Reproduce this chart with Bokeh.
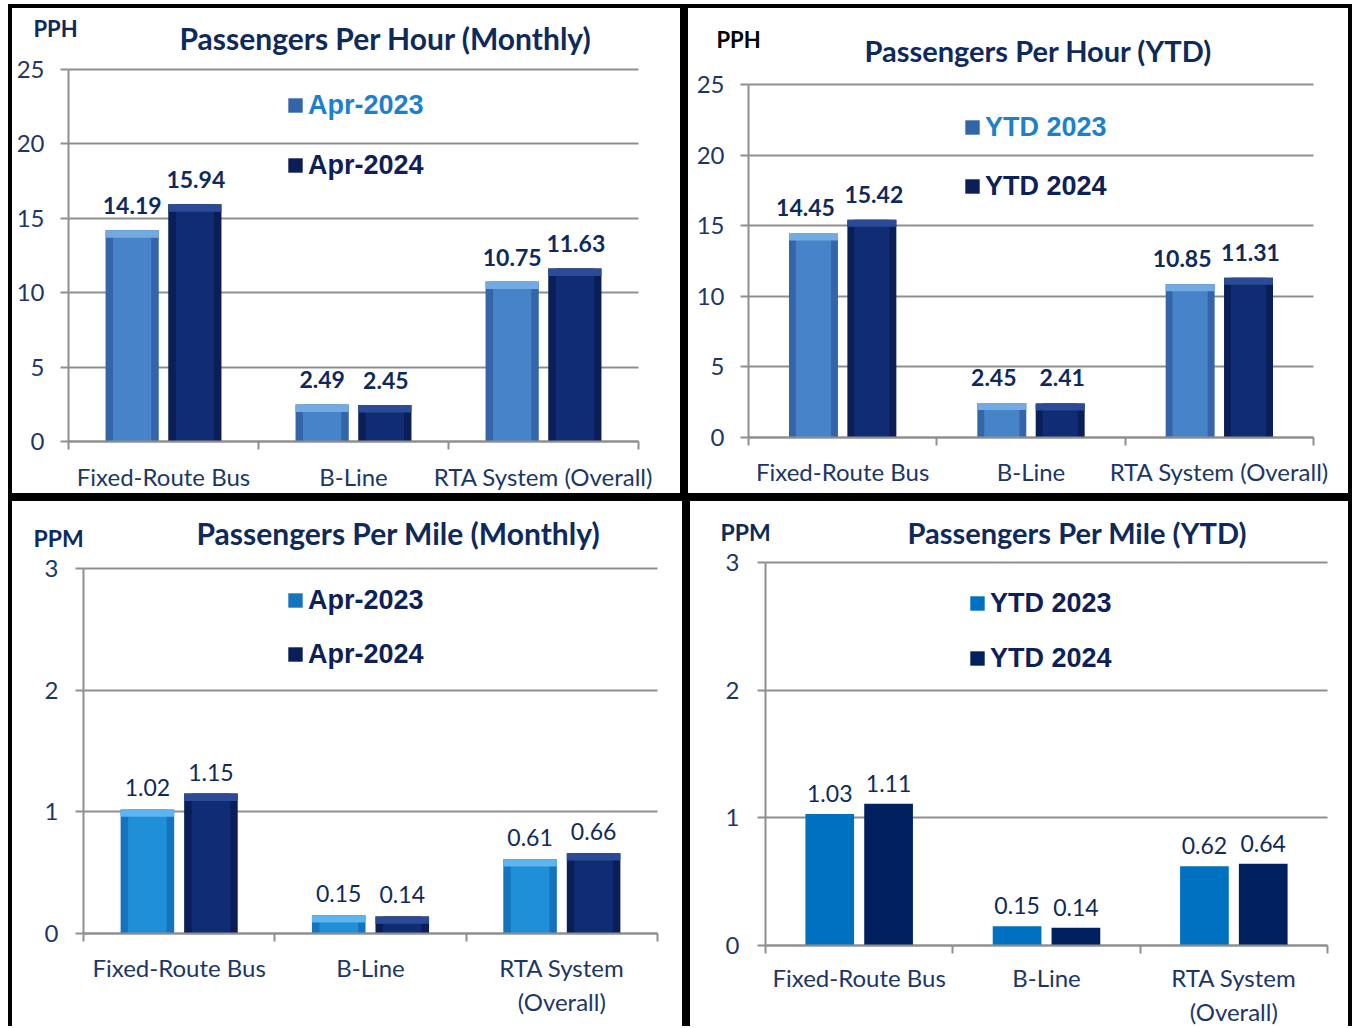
from bokeh.plotting import figure
from bokeh.models import (Range1d, FixedTicker, ColumnDataSource, LabelSet, Label,
                          Legend, LegendItem)
from bokeh.core.properties import value
from bokeh.layouts import column, row
from bokeh.embed import file_html
from bokeh.resources import INLINE

# ---------------- data ----------------
categories = ["Fixed-Route Bus", "B-Line", "RTA System (Overall)"]
categories_wrapped = ["Fixed-Route Bus", "B-Line", "RTA System\n(Overall)"]

pph_monthly_2023 = [14.19, 2.49, 10.75]
pph_monthly_2024 = [15.94, 2.45, 11.63]
pph_ytd_2023 = [14.45, 2.45, 10.85]
pph_ytd_2024 = [15.42, 2.41, 11.31]
ppm_monthly_2023 = [1.02, 0.15, 0.61]
ppm_monthly_2024 = [1.15, 0.14, 0.66]
ppm_ytd_2023 = [1.03, 0.15, 0.62]
ppm_ytd_2024 = [1.11, 0.14, 0.64]

pph_ticks = [0, 5, 10, 15, 20, 25]
ppm_ticks = [0, 1, 2, 3]

# ---------------- styles ----------------
TITLE_C = "#0e2a5c"
TICK_C = "#1c3767"
VAL_C = "#0e2a5c"
AX_C = "#8f8f8f"
FONT = "Lato"
LEG_LIGHT = "#1c80cc"
LEG_DARK = "#0d2158"

GRAD_LIGHT = ("#3465a8", "#4683c9", "#74aae2")
GRAD_DARK = ("#0a1e58", "#102c74", "#2c4b96")
GRAD_CYAN = ("#1574bd", "#1f8fd8", "#5cb5ef")
FLAT_LIGHT = ("#0070c0", None, None)
FLAT_DARK = ("#002060", None, None)

BOX_ALL = "inset 0 0 0 4px #000000"
BOX_NO_BOTTOM = "inset 4px 0 0 0 #000000, inset -4px 0 0 0 #000000, inset 0 4px 0 0 #000000"


def make_panel(c):
    labels = c["labels"]
    n = len(labels)
    yticks = c["yticks"]
    ymax = yticks[-1]
    W, H = c["size"]
    X0, X3, YT, Y0 = c["frame"]          # pixel positions of x=0, x=n, y=max, y=0
    kx = n / (X3 - X0)
    ky = ymax / (Y0 - YT)

    def px2x(px):
        return (px - X0) * kx

    def py2y(py):
        return (Y0 - py) * ky

    p = figure(width=W, height=H,
               x_range=Range1d(px2x(0), px2x(W)), y_range=Range1d(py2y(H), py2y(0)),
               output_backend="svg", toolbar_location=None)
    p.min_border = 0
    p.min_border_left = 0
    p.min_border_right = 0
    p.min_border_top = 0
    p.min_border_bottom = 0
    p.styles = {"background-color": "white", "box-shadow": c["box"]}
    p.outline_line_color = None
    p.background_fill_color = None
    p.border_fill_color = None
    p.xgrid.visible = False

    # y axis
    yax = p.yaxis[0]
    yax.fixed_location = 0
    yax.bounds = (0, ymax)
    yax.ticker = FixedTicker(ticks=yticks)
    yax.major_tick_out = 8
    yax.major_tick_in = 0
    yax.minor_tick_line_color = None
    yax.axis_line_color = AX_C
    yax.axis_line_width = 2
    yax.major_tick_line_color = AX_C
    yax.major_tick_line_width = 2
    yax.major_label_text_font = FONT
    yax.major_label_text_font_size = "24px"
    yax.major_label_text_color = TICK_C
    yax.major_label_standoff = c["y_standoff"]
    p.ygrid.grid_line_color = AX_C
    p.ygrid.grid_line_width = 2
    p.ygrid.cross_bounds = (0, n)

    # x axis: labels at category centres, tick marks at category boundaries
    xax = p.xaxis[0]
    xax.fixed_location = 0
    xax.bounds = (0, n)
    xax.ticker = FixedTicker(ticks=[i + 0.5 for i in range(n)],
                             minor_ticks=list(range(n + 1)))
    xax.major_tick_line_color = None
    xax.major_tick_out = 0
    xax.major_tick_in = 0
    xax.minor_tick_out = 8
    xax.minor_tick_in = 0
    xax.minor_tick_line_color = AX_C
    xax.minor_tick_line_width = 2
    xax.axis_line_color = AX_C
    xax.axis_line_width = 2
    xax.major_label_overrides = {i + 0.5: lab for i, lab in enumerate(labels)}
    xax.major_label_text_font = FONT
    xax.major_label_text_font_size = "24px"
    xax.major_label_text_color = TICK_C
    xax.major_label_standoff = c["x_standoff"]

    cap = 0.02 * ymax
    pad = c["value_pad"] * ky
    bar_w, bar_off = c["bar_w"], c["bar_off"]
    legend_renderers = []
    for v, off, cols, dx in zip(c["vals"], (-bar_off, bar_off), (c["c1"], c["c2"]),
                                c["label_dx"]):
        xs = [i + 0.5 + off for i in range(n)]
        src = ColumnDataSource(dict(
            x=xs, top=v, cap_bottom=[max(t - cap, 0) for t in v],
            label_y=[t + pad for t in v], txt=[f"{t:.2f}" for t in v]))
        base = p.vbar(x="x", top="top", bottom=0, width=bar_w, source=src,
                      fill_color=cols[0], line_color=None)
        if cols[1] is not None:
            p.vbar(x="x", top="top", bottom=0, width=bar_w * 0.72, source=src,
                   fill_color=cols[1], line_color=None)
            p.vbar(x="x", top="top", bottom="cap_bottom", width=bar_w, source=src,
                   fill_color=cols[2], line_color=None)
        legend_renderers.append(base)
        p.add_layout(LabelSet(x="x", y="label_y", text="txt", source=src,
                              x_offset=dx,
                              text_align="center", text_baseline="bottom",
                              text_font=value(FONT),
                              text_font_style="bold" if c["value_bold"] else "normal",
                              text_font_size=c["value_size"], text_color=VAL_C))

    item_h = 33
    for k in range(2):
        leg = Legend(items=[LegendItem(label=c["names"][k], renderers=[legend_renderers[k]])],
                     location=(c["leg_x"] - 2, H - c["leg_cy"][k] - item_h / 2),
                     border_line_color=None, background_fill_alpha=0,
                     padding=0, margin=0, spacing=0,
                     glyph_width=18, glyph_height=18, label_standoff=4,
                     label_text_font="Liberation Sans", label_text_font_style="bold",
                     label_text_font_size="27px", label_text_color=c["leg_colors"][k])
        p.add_layout(leg)

    tx, ty = c["title_px"]
    p.add_layout(Label(x=px2x(tx), y=py2y(ty), text=c["title"], text_font=FONT,
                       text_font_style="bold", text_font_size=c["title_size"],
                       text_color=TITLE_C, text_align="left", text_baseline="middle"))
    ux, uy = c["unit_px"]
    p.add_layout(Label(x=px2x(ux), y=py2y(uy), text=c["unit"], text_font=FONT,
                       text_font_style="bold", text_font_size=c["unit_size"],
                       text_color=c["unit_color"], text_align="left",
                       text_baseline="middle"))
    return p


p1 = make_panel(dict(
    title="Passengers Per Hour (Monthly)", title_px=(171, 33), title_size="30px",
    unit="PPH", unit_px=(25, 24), unit_color=TITLE_C, unit_size="22px",
    labels=categories, names=["Apr-2023", "Apr-2024"],
    vals=[pph_monthly_2023, pph_monthly_2024], yticks=pph_ticks,
    size=(676, 493), box=BOX_ALL, frame=(60, 630, 65, 437),
    leg_x=280, leg_cy=(100, 160), leg_colors=(LEG_LIGHT, LEG_DARK),
    bar_w=0.28, bar_off=0.165, c1=GRAD_LIGHT, c2=GRAD_DARK, label_dx=(0, 1),
    value_bold=True, value_size="23px", value_pad=16, x_standoff=12, y_standoff=16))

p2 = make_panel(dict(
    title="Passengers Per Hour (YTD)", title_px=(180, 46), title_size="29px",
    unit="PPH", unit_px=(32, 35), unit_color="#000000", unit_size="22px",
    labels=categories, names=["YTD 2023", "YTD 2024"],
    vals=[pph_ytd_2023, pph_ytd_2024], yticks=pph_ticks,
    size=(668, 493), box=BOX_ALL, frame=(64, 629, 80, 433),
    leg_x=281, leg_cy=(122, 181), leg_colors=(LEG_LIGHT, LEG_DARK),
    bar_w=0.26, bar_off=0.155, c1=GRAD_LIGHT, c2=GRAD_DARK, label_dx=(-8, 2),
    value_bold=True, value_size="23px", value_pad=17, x_standoff=11, y_standoff=16))

p3 = make_panel(dict(
    title="Passengers Per Mile (Monthly)", title_px=(188, 35), title_size="30px",
    unit="PPM", unit_px=(25, 40), unit_color=TITLE_C, unit_size="23px",
    labels=categories_wrapped, names=["Apr-2023", "Apr-2024"],
    vals=[ppm_monthly_2023, ppm_monthly_2024], yticks=ppm_ticks,
    size=(678, 529), box=BOX_NO_BOTTOM, frame=(75, 649, 71, 436),
    leg_x=280, leg_cy=(102, 156), leg_colors=(LEG_DARK, LEG_DARK),
    bar_w=0.28, bar_off=0.166, c1=GRAD_CYAN, c2=GRAD_DARK, label_dx=(0, 0),
    value_bold=False, value_size="23px", value_pad=13, x_standoff=11, y_standoff=17))

p4 = make_panel(dict(
    title="Passengers Per Mile (YTD)", title_px=(221, 35), title_size="29px",
    unit="PPM", unit_px=(34, 34), unit_color=TITLE_C, unit_size="23px",
    labels=categories_wrapped, names=["YTD 2023", "YTD 2024"],
    vals=[ppm_ytd_2023, ppm_ytd_2024], yticks=ppm_ticks,
    size=(666, 529), box=BOX_NO_BOTTOM, frame=(79, 641, 65, 448),
    leg_x=284, leg_cy=(105, 160), leg_colors=(LEG_DARK, LEG_DARK),
    bar_w=0.26, bar_off=0.157, c1=FLAT_LIGHT, c2=FLAT_DARK, label_dx=(0, 0),
    value_bold=False, value_size="23px", value_pad=12, x_standoff=9, y_standoff=18))

layout = column(row(p1, p2, spacing=0), row(p3, p4, spacing=0), spacing=0,
                margin=(4, 0, 0, 8))

with open("out.html", "w") as f:
    f.write(file_html(layout, INLINE))
